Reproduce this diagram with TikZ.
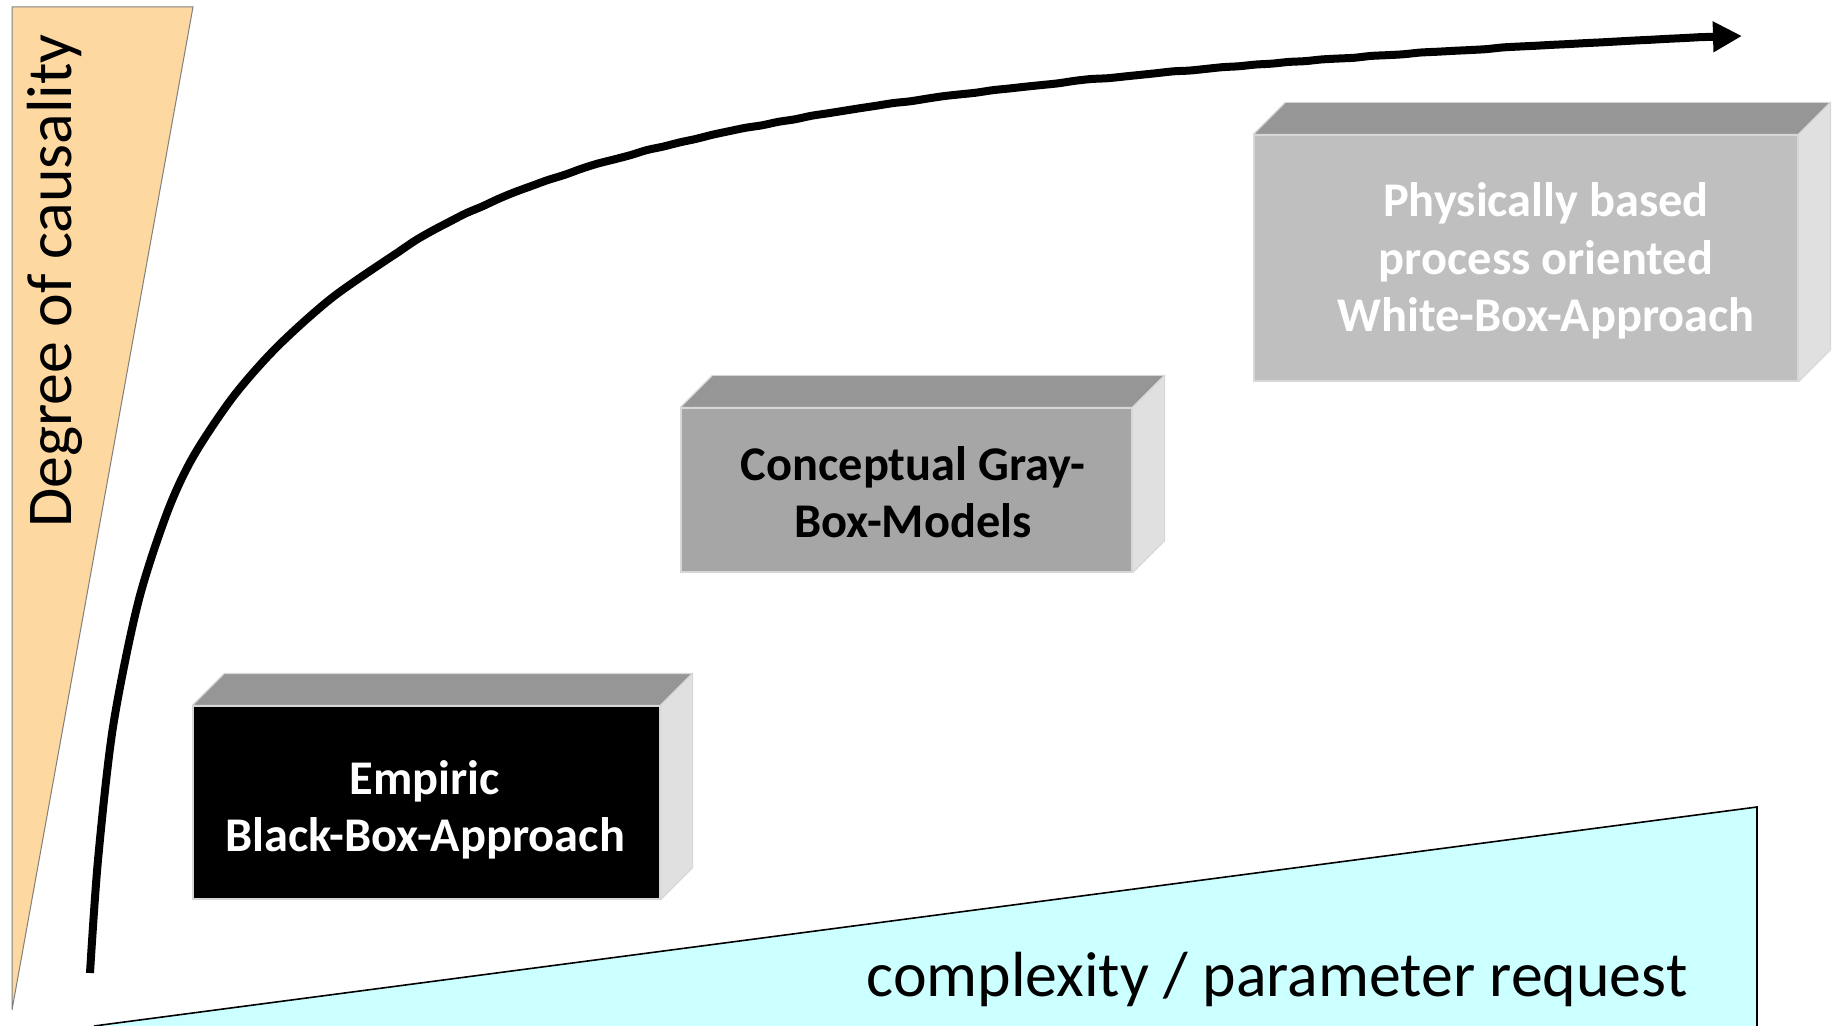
\documentclass[tikz,border=0pt]{standalone}
\usepackage{fontspec}
\setmainfont{Carlito}
\usetikzlibrary{arrows.meta}
\definecolor{orangefill}{RGB}{253,216,160}
\definecolor{cyanfill}{RGB}{204,255,255}
\definecolor{topgray}{RGB}{150,150,150}
\definecolor{sidegray}{RGB}{224,224,224}
\definecolor{midgray}{RGB}{166,166,166}
\definecolor{lightfront}{RGB}{191,191,191}
\definecolor{edgegray}{RGB}{215,215,215}
\tikzset{
  boxface/.style={rectangle, inner sep=0pt, draw=edgegray, line width=0.6pt},
  boxtext/.style={align=center, font=\fontsize{24.2}{28.8}\selectfont\bfseries},
  axislabel/.style={font=\fontsize{31.9}{36}\selectfont, inner sep=0pt},
  topface/.style={fill=topgray, draw=edgegray, line width=0.6pt, line join=round},
  sideface/.style={fill=sidegray, draw=edgegray, line width=0.6pt, line join=round},
  trend/.style={line width=4pt, line join=round, -{Triangle[length=14.5pt,width=14.5pt]}}
}
\begin{document}
\begin{tikzpicture}[x=0.5pt,y=-0.5pt]
\useasboundingbox (0,0) rectangle (1837,1026);
% wedges
\coordinate (oA) at (12,7);
\coordinate (oB) at (193,7);
\coordinate (oC) at (12,1010);
\filldraw[fill=orangefill, draw=gray, line width=0.5pt] (oA) -- (oB) -- (oC) -- cycle;
\coordinate (cA) at (94,1026);
\coordinate (cB) at (1757,807);
\coordinate (cC) at (1757,1026);
\fill[cyanfill] (cA) -- (cB) -- (cC) -- cycle;
\draw[black, line width=0.8pt] (cA) -- (cB) -- (cC);
\node[axislabel, rotate=90] (ylab) at (55,281) {Degree of causality};
\node[axislabel, anchor=base] (xlab) at (1277,996) {complexity / parameter request};
% trend curve
\coordinate (tstart) at (90,973);
\coordinate (ttip) at (1742,36);
\draw[trend] plot[smooth, tension=0.5] coordinates {(tstart) (98,860) (113,727) (138,603) (167,513) (193,457) (233,397) (277,347) (333,297) (400,251)}
  -- plot[domain=400:1700, samples=80, smooth] (\x, {8546*exp(-0.56*ln(\x-100))-99.5})
  -- (ttip);
% black box
\node[boxface, fill=black, minimum width=233.5pt, minimum height=96.5pt] (bb) at (426.5,802.5) {};
\filldraw[topface] (bb.north west) -- ++(32,-32) -- ([shift={(32,-32)}]bb.north east) -- (bb.north east) -- cycle;
\filldraw[sideface] (bb.north east) -- ++(32,-32) -- ([shift={(32,-32)}]bb.south east) -- (bb.south east) -- cycle;
\node[boxtext, text=white] (bbt) at (425,810) {Empiric\\Black-Box-Approach};
% gray box
\node[boxface, fill=midgray, minimum width=225.5pt, minimum height=82pt] (gb) at (906.5,490) {};
\filldraw[topface] (gb.north west) -- ++(32,-32) -- ([shift={(32,-32)}]gb.north east) -- (gb.north east) -- cycle;
\filldraw[sideface] (gb.north east) -- ++(32,-32) -- ([shift={(32,-32)}]gb.south east) -- (gb.south east) -- cycle;
\node[boxtext, text=black] (gbt) at (913,492) {Conceptual Gray-\\Box-Models};
% white box
\node[boxface, fill=lightfront, minimum width=272pt, minimum height=123pt] (wb) at (1526,258) {};
\filldraw[topface] (wb.north west) -- ++(32,-32) -- ([shift={(32,-32)}]wb.north east) -- (wb.north east) -- cycle;
\filldraw[sideface] (wb.north east) -- ++(32,-32) -- ([shift={(32,-32)}]wb.south east) -- (wb.south east) -- cycle;
\node[boxtext, text=white] (wbt) at (1546,261) {Physically based\\process oriented\\White-Box-Approach};
\end{tikzpicture}
\end{document}
